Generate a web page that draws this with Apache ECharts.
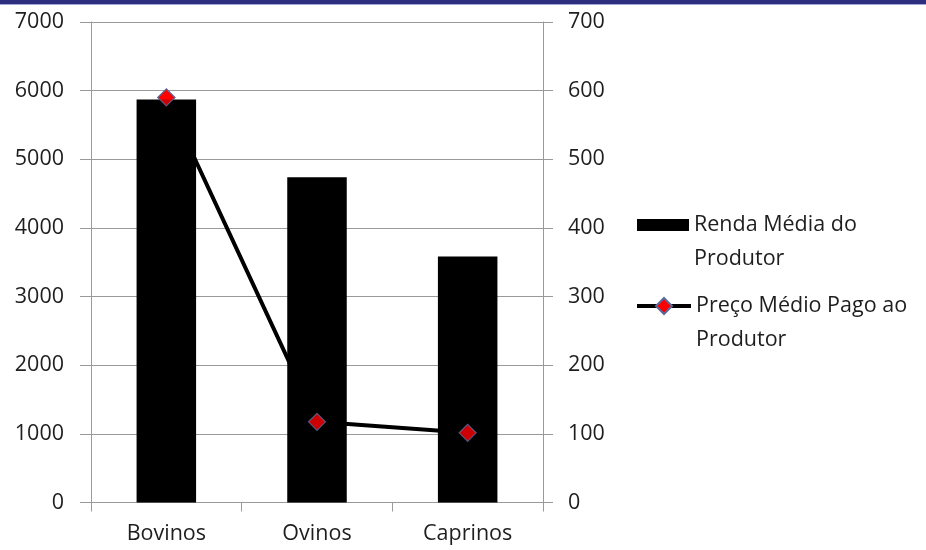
<!DOCTYPE html>
<html>
<head>
<meta charset="utf-8">
<script src="https://cdn.jsdelivr.net/npm/echarts@6/dist/echarts.min.js"></script>
<style>
  html, body { margin: 0; padding: 0; background: #fff; }
  #chart { width: 926px; height: 550px; }
</style>
</head>
<body>
<div id="chart"></div>
<script>
// Categories and values
const categories = ['Bovinos', 'Ovinos', 'Caprinos'];
const rendaMedia = [5870, 4740, 3585];      // left axis
const precoMedio = [590, 117.5, 101.5];     // right axis
const leftTicks = { min: 0, max: 7000, interval: 1000 };
const rightTicks = { min: 0, max: 700, interval: 100 };
const nameRenda = 'Renda Média do Produtor';
const namePreco = 'Preço Médio Pago ao Produtor';

const FONT = '"Open Sans", "DejaVu Sans", sans-serif';
const TEXT = '#1e1e1e';
const GRID = '#9a9a9a';

const chart = echarts.init(document.getElementById('chart'), null, { renderer: 'canvas' });

// Legend labels wrap onto two lines; a blank first line keeps the
// icon level with the first line of text.
function legendLabel(name) {
  const parts = name === nameRenda
    ? ['Renda Média do', 'Produtor']
    : ['Preço Médio Pago ao', 'Produtor'];
  return '\u00a0\n' + parts.join('\n');
}

const legendText = {
  color: TEXT,
  fontFamily: FONT,
  fontSize: 21.5,
  lineHeight: 34
};

chart.setOption({
  backgroundColor: '#ffffff',
  animation: false,
  graphic: [
    { type: 'rect', left: 0, top: 0, shape: { width: 926, height: 4 }, style: { fill: '#2d2e7e' }, silent: true },
    { type: 'rect', left: 0, top: 4, shape: { width: 926, height: 1 }, style: { fill: '#a5a7d4' }, silent: true }
  ],
  grid: { left: 91, right: 383, top: 22, bottom: 47.5, containLabel: false },
  legend: [
    {
      data: [nameRenda],
      orient: 'vertical',
      left: 637,
      top: 174,
      padding: 0,
      itemWidth: 52,
      itemHeight: 12,
      icon: 'rect',
      formatter: legendLabel,
      textStyle: legendText
    },
    {
      data: [namePreco],
      orient: 'vertical',
      left: 635,
      top: 255,
      padding: 0,
      itemWidth: 54,
      itemHeight: 20,
      lineStyle: { width: 4 },
      formatter: legendLabel,
      textStyle: legendText
    }
  ],
  xAxis: {
    type: 'category',
    data: categories,
    boundaryGap: true,
    axisLine: { lineStyle: { color: GRID, width: 1 } },
    axisTick: { show: true, length: 9, lineStyle: { color: GRID } },
    axisLabel: { color: TEXT, fontFamily: FONT, fontSize: 21.5, margin: 20 }
  },
  yAxis: [
    {
      type: 'value',
      position: 'left',
      min: leftTicks.min, max: leftTicks.max, interval: leftTicks.interval,
      axisLine: { show: true, lineStyle: { color: GRID, width: 1 } },
      axisTick: { show: true, length: 11, lineStyle: { color: GRID } },
      splitLine: { show: true, lineStyle: { color: GRID, width: 1 } },
      axisLabel: { color: TEXT, fontFamily: FONT, fontSize: 21.5, margin: 27, formatter: v => String(v) }
    },
    {
      type: 'value',
      position: 'right',
      min: rightTicks.min, max: rightTicks.max, interval: rightTicks.interval,
      axisLine: { show: true, lineStyle: { color: GRID, width: 1 } },
      axisTick: { show: true, length: 10, lineStyle: { color: GRID } },
      splitLine: { show: false },
      axisLabel: { color: TEXT, fontFamily: FONT, fontSize: 21.5, margin: 25, formatter: v => String(v) }
    }
  ],
  series: [
    {
      name: nameRenda,
      type: 'bar',
      data: rendaMedia,
      yAxisIndex: 0,
      barWidth: '39.5%',
      itemStyle: { color: '#000000' },
      z: 3
    },
    {
      // connecting line sits behind the bars
      name: namePreco,
      type: 'line',
      data: precoMedio,
      yAxisIndex: 1,
      symbol: 'diamond',
      symbolSize: 17,
      showSymbol: true,
      lineStyle: { color: '#000000', width: 4 },
      itemStyle: { color: '#ff0000', borderColor: '#5b6a9c', borderWidth: 1.2 },
      z: 2
    },
    {
      // price markers drawn above the bars
      name: 'marcadores',
      type: 'scatter',
      data: precoMedio,
      yAxisIndex: 1,
      symbol: 'diamond',
      symbolSize: 17,
      itemStyle: { color: '#ff0000', borderColor: '#5b6a9c', borderWidth: 1.2 },
      z: 4
    }
  ]
});
</script>
</body>
</html>
